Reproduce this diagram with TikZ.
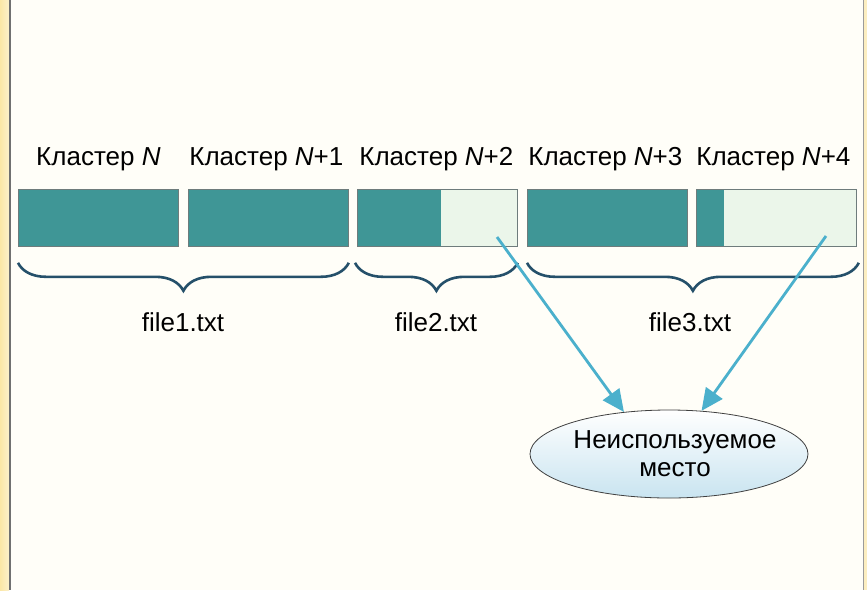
\documentclass[tikz,border=0pt]{standalone}
\usepackage{fontspec}
\setmainfont{Liberation Sans}
\usetikzlibrary{shapes.geometric,arrows.meta,decorations.pathreplacing,calc}
\definecolor{bgcream}{HTML}{FFFEF8}
\definecolor{stripy}{HTML}{FBE7A6}
\definecolor{framegray}{HTML}{707070}
\definecolor{tealdark}{HTML}{3F9696}
\definecolor{tealpale}{HTML}{EBF6EA}
\definecolor{boxedge}{HTML}{6E7C7C}
\definecolor{bracecol}{HTML}{25506A}
\definecolor{arrowcol}{HTML}{4BB0CC}
\definecolor{ellbot}{HTML}{C9E4F0}
\tikzset{
  clbox/.style={draw=boxedge, line width=0.8pt, fill=tealdark, minimum width=160pt, minimum height=57pt, inner sep=0pt, anchor=north west},
  clpale/.style={clbox, fill=tealpale},
  cltxt/.style={font=\fontsize{26}{30}\selectfont, inner sep=0pt},
  filetxt/.style={font=\fontsize{26}{30}\selectfont, inner sep=0pt},
  brc/.style={draw=bracecol, line width=2.6pt, decorate, decoration={brace, mirror, amplitude=28pt}},
  arr/.style={draw=arrowcol, line width=2.8pt, -{Triangle[length=22pt,width=20pt]}},
  unused/.style={ellipse, draw=black!75, line width=0.8pt, top color=white, bottom color=ellbot, minimum width=278pt, minimum height=88pt, inner sep=0pt},
  elltxt/.style={inner sep=0pt, align=center, font=\fontsize{26}{30}\selectfont}
}
\begin{document}
\begin{tikzpicture}[x=1pt,y=-1pt]
\useasboundingbox (0,0) rectangle (867,590);
\fill[bgcream] (0,0) rectangle (867,590);
\shade[left color=stripy, right color=stripy!60!white] (0,0) rectangle (9,590);
\draw[framegray, line width=1.6pt] (10,0) -- (10,590);
\fill[stripy!70!white] (864,0) rectangle (867,590);
\draw[framegray!70, line width=1pt] (863,0) -- (863,590);

% cluster boxes
\node[clbox] (b1) at (18,189) {};
\node[clbox] (b2) at (188,189) {};
\node[clpale] (b3) at (357,189) {};
\fill[tealdark] (b3.north west) rectangle ($(b3.south west)+(84,0)$);
\draw[boxedge, line width=0.8pt] (b3.north west) rectangle (b3.south east);
\node[clbox] (b4) at (527,189) {};
\node[clpale] (b5) at (696,189) {};
\fill[tealdark] (b5.north west) rectangle ($(b5.south west)+(28,0)$);
\draw[boxedge, line width=0.8pt] (b5.north west) rectangle (b5.south east);

% cluster labels
\node[cltxt] (l1) at ($(b1.north)+(0,-30)$) {Кластер \textit{N}};
\node[cltxt] (l2) at ($(b2.north)+(-2,-30)$) {Кластер \textit{N}+1};
\node[cltxt] (l3) at ($(b3.north)+(-1,-30)$) {Кластер \textit{N}+2};
\node[cltxt] (l4) at ($(b4.north)+(-2,-30)$) {Кластер \textit{N}+3};
\node[cltxt] (l5) at ($(b5.north)+(-3,-30)$) {Кластер \textit{N}+4};

% braces
\draw[brc] ($(b1.south west)+(0,16)$) -- ($(b2.south east)+(0,16)$);
\draw[brc] ($(b3.south west)+(-2,16)$) -- ($(b3.south east)+(0,16)$);
\draw[brc] ($(b4.south west)+(0,16)$) -- ($(b5.south east)+(2,16)$);

% file labels
\node[filetxt] (f1) at (183,322) {file1.txt};
\node[filetxt] (f2) at (436,322) {file2.txt};
\node[filetxt] (f3) at (690,322) {file3.txt};

% unused space
\node[unused] (ell) at (669,454) {};
\node[elltxt] (ellt) at ($(ell.center)+(6,0)$) {Неиспользуемое\\[-2pt]место};
\coordinate (s1) at (497,237);
\coordinate (s2) at (826,236);
\draw[arr] (s1) -- (ell.137);
\draw[arr] (s2) -- (ell.53);
\end{tikzpicture}
\end{document}
